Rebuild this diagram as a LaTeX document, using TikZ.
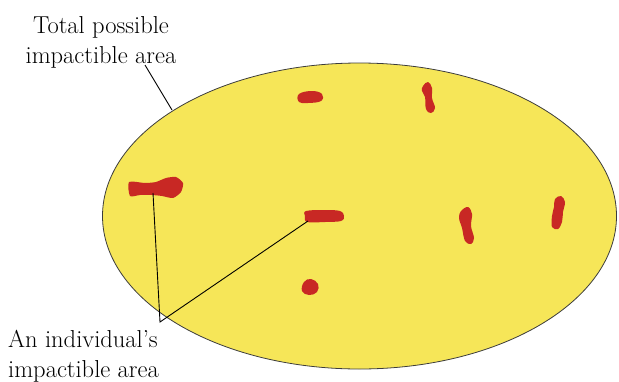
\documentclass[tikz,border=0pt]{standalone}
\usepackage{fontspec}
\definecolor{areayellow}{RGB}{246,230,88}
\definecolor{spotred}{RGB}{200,40,36}
\definecolor{rimgray}{RGB}{60,60,60}
\begin{document}
\begin{tikzpicture}[x=1pt,y=-1pt,
  spot/.style={fill=spotred,draw=none},
  leader/.style={draw=black,line width=0.9pt},
  lbl/.style={font=\fontsize{24.5}{30}\selectfont,inner sep=0pt}]
\useasboundingbox (0,0) rectangle (619,381);
% total area
\fill[areayellow,draw=rimgray,line width=0.8pt] (359.5,216) ellipse [x radius=257, y radius=153];
% spots
\fill[spot] plot[smooth cycle,tension=0.4] coordinates {(129,182) (145,183) (156,182) (166,178) (176,177) (183,183) (181,192) (173,198) (162,196) (152,195) (140,195) (130,196)};
\fill[spot] plot[smooth cycle,tension=0.7] coordinates {(299,94) (312,91) (322,94) (321,101) (308,103) (299,102)};
\fill[spot] plot[smooth cycle,tension=0.7] coordinates {(423,86) (428,82) (432,88) (432,98) (435,108) (431,113) (426,109) (425,97) (422,91)};
\fill[spot] plot[smooth cycle,tension=0.6] coordinates {(306,211) (325,210) (340,211) (344,216) (341,221) (325,222) (307,222) (305,216)};
\fill[spot] plot[smooth cycle,tension=0.7] coordinates {(304,282) (311,279) (318,284) (317,292) (309,295) (302,291)};
\fill[spot] plot[smooth cycle,tension=0.6] coordinates {(461,211) (468,207) (472,214) (471,226) (474,238) (471,244) (465,241) (462,228) (459,218)};
\fill[spot] plot[smooth cycle,tension=0.6] coordinates {(555,199) (561,196) (565,202) (563,212) (562,222) (558,229) (552,227) (552,216) (554,207)};
% anchor points
\coordinate (leftspot) at (153,193);
\coordinate (centerspot) at (308,221);
\coordinate (apex) at (160,322);
\coordinate (rim) at (172,110);
\coordinate (labelfoot) at (145,65);
% labels
\node[lbl,align=center,anchor=north] (total) at (101,16) {Total possible\\impactible area};
\node[lbl,align=left,anchor=north west] (indiv) at (8,330) {An individual’s\\impactible area};
% leaders
\draw[leader] (labelfoot) -- (rim);
\draw[leader] (leftspot) -- (apex) -- (centerspot);
\end{tikzpicture}
\end{document}
